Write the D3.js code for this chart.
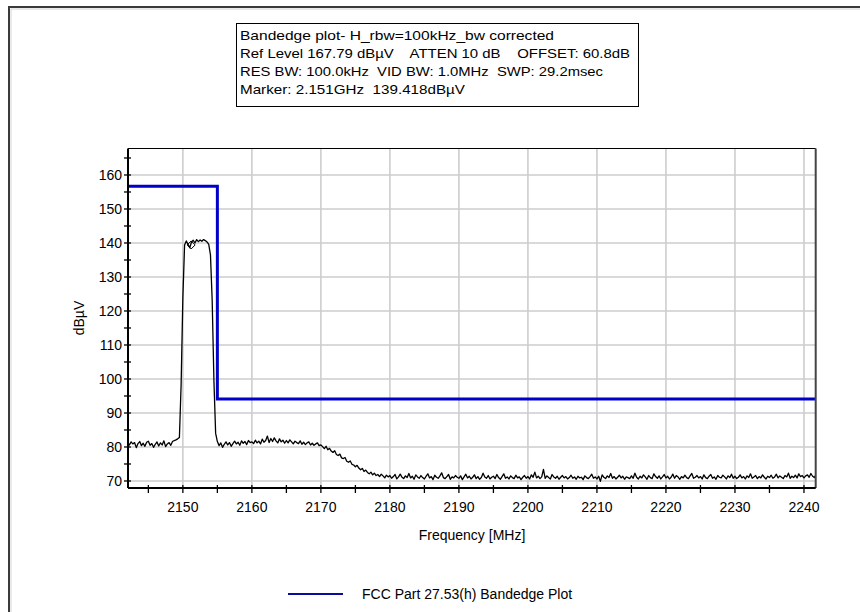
<!DOCTYPE html>
<html>
<head>
<meta charset="utf-8">
<script src="https://cdn.jsdelivr.net/npm/d3@7"></script>
<style>
  html, body { margin: 0; padding: 0; background: #fff; }
  svg { display: block; }
  text { font-family: "Liberation Sans", Arial, sans-serif; fill: #000; }
  .pre { white-space: pre; }
</style>
</head>
<body>
<svg id="chart" width="860" height="612"></svg>
<script>
// ---------------- DATA ----------------
const headerLines = [
  "Bandedge plot- H_rbw=100kHz_bw corrected",
  "Ref Level 167.79 dB\u00b5V    ATTEN 10 dB    OFFSET: 60.8dB",
  "RES BW: 100.0kHz  VID BW: 1.0MHz  SWP: 29.2msec",
  "Marker: 2.151GHz  139.418dB\u00b5V"
];
const xTicks = [2150, 2160, 2170, 2180, 2190, 2200, 2210, 2220, 2230, 2240];
const xMinorTicks = [2145, 2155, 2165, 2175, 2185, 2195, 2205, 2215, 2225, 2235];
const yTicks = [70, 80, 90, 100, 110, 120, 130, 140, 150, 160];
const yMinorTicks = [75, 85, 95, 105, 115, 125, 135, 145, 155, 165];
const xLabel = "Frequency [MHz]";
const yLabel = "dB\u00b5V";
const legendLabel = "FCC Part 27.53(h) Bandedge Plot";

// limit line (FCC Part 27.53(h) Bandedge)
const limitFreq  = [2142.05, 2155, 2155, 2241.7];
const limitLevel = [156.7, 156.7, 94.1, 94.1];

// marker
const markerFreq = 2151.2;
const markerLevel = 139.418;

// measured trace: sweep starting at 2142 MHz, 0.25 MHz per point
const traceStartMHz = 2142;
const traceStepMHz = 0.25;
const traceLevels = [
  // 2142.00 - 2149.25
  81.2, 80.6, 81.5, 80.9, 81.3, 79.8, 81.0, 81.6, 80.4, 81.1, 80.2, 81.4, 81.7, 80.5, 81.0,
  79.9, 80.8, 81.5, 80.3, 81.2, 80.6, 81.8, 80.1, 80.9, 81.3, 80.5, 81.6, 81.9, 82.1, 82.4,
  // 2149.50 - 2154.75 (carrier)
  82.8, 98.5, 124.0, 139.4,
  140.6, 139.6, 138.6, 140.3, 140.8, 140.0, 141.0, 140.4, 140.9, 140.5, 141.0, 140.7, 140.3,
  139.6, 136.5, 123.0, 99.5, 84.0,
  // 2155.00 - 2159.75
  81.6, 80.4, 81.2, 79.9, 80.8, 81.5, 80.6, 81.3, 80.2, 81.0, 81.7, 80.9, 81.4, 80.5, 81.8, 81.1, 81.6, 80.7, 81.9, 81.3,
  // 2160.00 - 2164.75
  81.5, 81.0, 82.0, 81.2, 81.7, 80.9, 82.3, 81.4, 81.9, 83.2, 81.3, 82.5, 81.6, 82.7, 81.8, 81.2, 82.4, 81.5, 82.0, 81.1,
  // 2165.00 - 2169.75
  81.9, 81.2, 82.1, 81.5, 80.9, 81.7, 81.3, 81.0, 81.8, 80.8, 81.4, 80.7, 81.2, 81.5, 80.6, 81.1, 80.5, 80.9, 81.2, 80.4,
  // 2170.00 - 2174.75
  80.6, 80.1, 79.5, 80.2, 79.2, 79.6, 78.8, 78.4, 78.9, 77.8, 77.5, 77.9, 76.8, 76.6, 76.9, 75.8, 75.5, 75.9, 74.9, 74.7,
  // 2175.00 - 2179.75
  74.2, 74.6, 73.8, 73.3, 73.7, 72.8, 73.2, 72.5, 72.1, 72.6, 71.8, 72.3, 71.6, 71.9, 71.3, 72.0, 71.5, 70.9, 71.7, 71.2,
  // 2180.00 - 2184.75
  71.6, 70.8, 71.3, 71.9, 70.6, 71.2, 72.0, 71.1, 70.7, 71.5, 71.0, 72.2, 70.9, 71.4, 70.5, 71.8, 71.2, 70.8, 71.6, 71.0,
  // 2185.00 - 2189.75
  70.6, 71.4, 72.1, 70.9, 71.3, 70.4, 71.7, 71.1, 70.8, 71.5, 72.4, 71.0, 70.7, 71.3, 71.9, 70.5, 71.2, 70.9, 71.6, 71.1,
  // 2190.00 - 2194.75
  70.8, 71.5, 70.4, 71.2, 72.0, 70.9, 71.4, 70.6, 71.1, 71.8, 70.7, 71.3, 70.5, 71.0, 72.3, 71.2, 70.8, 71.6, 70.6, 71.1,
  // 2195.00 - 2199.75
  71.4, 70.7, 71.9, 71.0, 70.5, 71.3, 72.1, 70.8, 71.2, 70.6, 71.5, 71.0, 70.7, 71.7, 70.9, 71.2, 70.4, 71.1, 71.6, 70.8,
  // 2200.00 - 2204.75
  71.3, 70.6, 71.8, 71.1, 72.6, 70.9, 71.4, 70.7, 71.2, 73.4, 70.8, 71.5, 71.0, 70.6, 71.9, 71.2, 70.8, 71.4, 70.5, 71.1,
  // 2205.00 - 2209.75
  71.6, 70.9, 71.3, 70.6, 71.0, 71.7, 70.8, 71.2, 70.5, 71.4, 70.9, 71.1, 70.4, 71.5, 71.0, 70.7, 71.3, 72.0, 70.8, 71.2,
  // 2210.00 - 2214.75
  70.6, 71.4, 69.9, 71.8, 71.1, 70.7, 71.5, 71.0, 72.2, 70.8, 71.3, 70.6, 71.1, 71.7, 70.9, 71.4, 70.5, 71.2, 71.0, 70.7,
  // 2215.00 - 2219.75
  71.5, 70.8, 72.3, 71.1, 70.6, 71.4, 70.9, 71.8, 71.2, 70.5, 71.6, 71.0, 70.7, 72.1, 71.3, 70.8, 71.5, 70.6, 71.2, 71.9,
  // 2220.00 - 2224.75
  70.9, 71.4, 70.6, 71.1, 72.0, 70.8, 71.6, 71.2, 70.5, 71.3, 70.9, 71.7, 71.0, 70.7, 71.5, 72.2, 70.8, 71.1, 71.6, 70.9,
  // 2225.00 - 2229.75
  71.3, 70.6, 71.8, 71.0, 70.7, 71.4, 71.9, 70.8, 71.2, 70.5, 71.6, 71.1, 70.9, 71.7, 71.2, 70.6, 71.5, 71.0, 72.0, 70.8,
  // 2230.00 - 2234.75
  71.4, 70.7, 71.1, 71.8, 70.9, 71.3, 70.6, 71.5, 71.0, 72.1, 70.8, 71.2, 71.6, 70.7, 71.3, 70.9, 71.8, 71.1, 70.6, 71.4,
  // 2235.00 - 2239.75
  71.0, 71.7, 70.8, 71.2, 72.0, 70.9, 71.5, 71.1, 70.7, 71.6, 71.2, 72.3, 70.8, 71.4, 71.0, 71.7, 70.9, 72.1, 71.3, 71.6,
  // 2240.00 - 2241.75
  70.9, 71.5, 71.8, 71.1, 72.2, 71.4, 71.0, 71.9
];

// ---------------- LAYOUT ----------------
const svg = d3.select("#chart");
const plot = { left: 128, right: 815.7, top: 148.5, bottom: 488 };

const x = d3.scaleLinear().domain([2142.05, 2241.7]).range([plot.left, plot.right]);
const y = d3.scaleLinear().domain([67.79, 167.79]).range([488.5, 148.5]);

// outer frame
svg.append("path")
  .attr("d", "M9,620 L9,7 L870,7")
  .attr("fill", "none").attr("stroke", "#3a3a3a").attr("stroke-width", 2);
svg.append("path")
  .attr("d", "M11,620 L11,9 L870,9")
  .attr("fill", "none").attr("stroke", "#c8c8c8").attr("stroke-width", 0.8);

// header box
const hb = { x: 236.5, y: 23.5, w: 402, h: 83 };
svg.append("rect").attr("x", hb.x).attr("y", hb.y).attr("width", hb.w).attr("height", hb.h)
  .attr("fill", "#fff").attr("stroke", "#000").attr("stroke-width", 1);
const headerWidths = [314, 390, 363, 225];
svg.selectAll("text.hdr").data(headerLines).join("text")
  .attr("class", "hdr pre")
  .attr("x", 240)
  .attr("y", (d, i) => 39.5 + i * 18.3)
  .attr("textLength", (d, i) => headerWidths[i])
  .attr("lengthAdjust", "spacingAndGlyphs")
  .style("font-size", "13px")
  .text(d => d);

// gridlines
const g = svg.append("g");
g.selectAll("line.vg").data(xTicks).join("line")
  .attr("x1", d => x(d)).attr("x2", d => x(d))
  .attr("y1", plot.top).attr("y2", plot.bottom)
  .attr("stroke", "#cdcdcd").attr("stroke-width", 1.6);
g.selectAll("line.hg").data(yTicks).join("line")
  .attr("x1", plot.left).attr("x2", plot.right)
  .attr("y1", d => y(d)).attr("y2", d => y(d))
  .attr("stroke", "#cdcdcd").attr("stroke-width", 1.6);

// clip
svg.append("clipPath").attr("id", "clip").append("rect")
  .attr("x", plot.left).attr("y", plot.top)
  .attr("width", plot.right - plot.left).attr("height", plot.bottom - plot.top);

// trace
const traceData = traceLevels.map((v, i) => [traceStartMHz + i * traceStepMHz, v]);
const line = d3.line().x(d => x(d[0])).y(d => y(d[1]));
svg.append("path")
  .datum(traceData)
  .attr("clip-path", "url(#clip)")
  .attr("d", line)
  .attr("fill", "none").attr("stroke", "#000").attr("stroke-width", 1.3)
  .attr("stroke-linejoin", "round");

// marker diamond
const mx = x(markerFreq), my = y(markerLevel);
svg.append("path")
  .attr("d", `M${mx},${my - 4} L${mx + 4},${my} L${mx},${my + 4} L${mx - 4},${my} Z`)
  .attr("fill", "none").attr("stroke", "#000").attr("stroke-width", 1);

// limit line
const limitData = limitFreq.map((f, i) => [f, limitLevel[i]]);
svg.append("path")
  .datum(limitData)
  .attr("clip-path", "url(#clip)")
  .attr("d", line)
  .attr("fill", "none").attr("stroke", "#0000c8").attr("stroke-width", 3)
  .attr("stroke-linejoin", "miter");

// plot border
svg.append("line").attr("x1", plot.left).attr("x2", plot.right).attr("y1", plot.top).attr("y2", plot.top)
  .attr("stroke", "#000").attr("stroke-width", 1.2);
svg.append("line").attr("x1", plot.right).attr("x2", plot.right).attr("y1", plot.top).attr("y2", plot.bottom)
  .attr("stroke", "#444").attr("stroke-width", 2);
svg.append("line").attr("x1", plot.left).attr("x2", plot.left).attr("y1", plot.top).attr("y2", plot.bottom)
  .attr("stroke", "#000").attr("stroke-width", 2);
svg.append("line").attr("x1", plot.left).attr("x2", plot.right).attr("y1", plot.bottom).attr("y2", plot.bottom)
  .attr("stroke", "#000").attr("stroke-width", 2);

// ticks
const allX = xTicks.concat(xMinorTicks);
svg.selectAll("line.xt").data(allX).join("line")
  .attr("x1", d => x(d)).attr("x2", d => x(d))
  .attr("y1", plot.bottom - 3).attr("y2", plot.bottom + 5)
  .attr("stroke", "#000").attr("stroke-width", 1.3);
const allY = yTicks.concat(yMinorTicks);
svg.selectAll("line.yt").data(allY).join("line")
  .attr("x1", plot.left - 4).attr("x2", plot.left + 3)
  .attr("y1", d => y(d)).attr("y2", d => y(d))
  .attr("stroke", "#000").attr("stroke-width", 1.3);

// tick labels
svg.selectAll("text.xl").data(xTicks).join("text")
  .attr("x", d => x(d)).attr("y", 512)
  .attr("text-anchor", "middle")
  .style("font-size", "14px")
  .text(d => d);
svg.selectAll("text.yl").data(yTicks).join("text")
  .attr("x", 122).attr("y", d => y(d) + 5)
  .attr("text-anchor", "end")
  .style("font-size", "14px")
  .text(d => d);

// axis titles
svg.append("text").attr("x", 472).attr("y", 540).attr("text-anchor", "middle")
  .style("font-size", "14px").text(xLabel);
svg.append("text").attr("transform", "translate(84,318) rotate(-90)").attr("text-anchor", "middle")
  .style("font-size", "14px").text(yLabel);

// legend
svg.append("line").attr("x1", 288).attr("x2", 343).attr("y1", 594).attr("y2", 594)
  .attr("stroke", "#0a0aa0").attr("stroke-width", 2.2);
svg.append("text").attr("x", 362).attr("y", 599)
  .style("font-size", "14px").text(legendLabel);
</script>
</body>
</html>
